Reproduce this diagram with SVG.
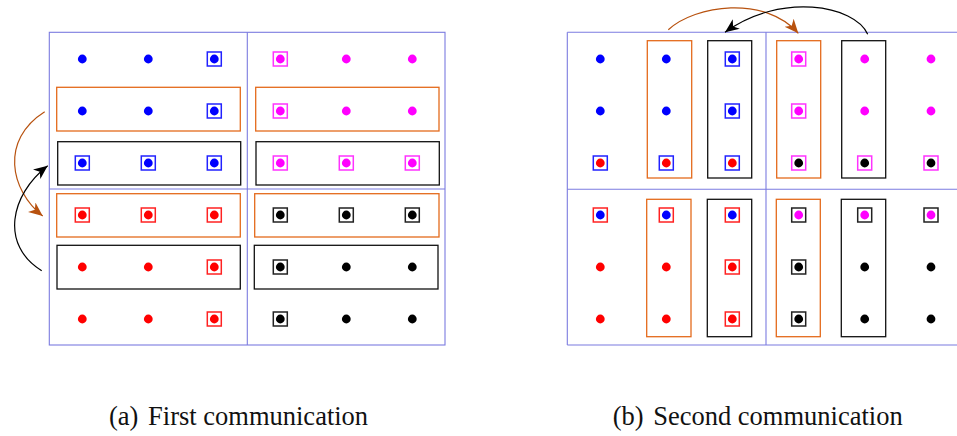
<svg xmlns="http://www.w3.org/2000/svg" width="957" height="436" viewBox="0 0 957 436">
<style>
.frame{fill:none;stroke:#7b7be0;stroke-width:1.1}
.ob{fill:none;stroke:#e46a1c;stroke-width:1.3}
.kb{fill:none;stroke:#111;stroke-width:1.3}
.b{fill:#0000ff}.m{fill:#ff00ff}.r{fill:#ff0000}.k{fill:#000}
circle{r:4.4px}
.sq{fill:none;stroke-width:1.5}
.sb{stroke:#2222ff}.sm{stroke:#ff33ff}.sr{stroke:#ff2222}.sk{stroke:#222}
.arr-o{fill:none;stroke:#b8520f;stroke-width:1.2}
.arr-k{fill:none;stroke:#000;stroke-width:1.2}
.cap{font-family:"Liberation Serif","Times New Roman",serif;font-size:26.5px;fill:#111}
</style>
<defs>
<marker id="hO" markerWidth="18" markerHeight="14" refX="14" refY="7" orient="auto" markerUnits="userSpaceOnUse"><path d="M14,7 L0,1 L4,7 L0,13 z" fill="#b8520f"/></marker>
<marker id="hK" markerWidth="18" markerHeight="14" refX="14" refY="7" orient="auto" markerUnits="userSpaceOnUse"><path d="M14,7 L0,1 L4,7 L0,13 z" fill="#000"/></marker>
</defs>
<rect width="957" height="436" fill="#fff"/>

<!-- Panel (a) -->
<g id="panel-a-frame">
<rect class="frame" x="49.3" y="32.3" width="395.7" height="312.7"/>
<line class="frame" x1="247.3" y1="32.3" x2="247.3" y2="345"/>
<line class="frame" x1="49.3" y1="189" x2="445" y2="189"/>
</g>
<g id="panel-a-groups">
<rect class="ob" x="56.7" y="87.3" width="183.6" height="43.7"/>
<rect class="kb" x="57.7" y="141.7" width="183" height="43.3"/>
<rect class="ob" x="255.7" y="87.3" width="183.3" height="43.7"/>
<rect class="kb" x="256" y="141.7" width="183.3" height="43.3"/>
<rect class="ob" x="56.7" y="193.7" width="183.6" height="43.3"/>
<rect class="kb" x="57" y="245.3" width="183.3" height="43.7"/>
<rect class="ob" x="254.7" y="193.7" width="184.3" height="43.3"/>
<rect class="kb" x="254.3" y="245.3" width="183.7" height="43.7"/>
</g>
<g id="a-blue">
<g id="a-r1c1"><circle class="b" cx="82.3" cy="59" r="4.4"/></g>
<g id="a-r1c2"><circle class="b" cx="148.3" cy="59" r="4.4"/></g>
<g id="a-r1c3"><circle class="b" cx="214.3" cy="59" r="4.4"/><rect class="sq sb" x="207.3" y="52" width="14" height="14"/></g>
<g id="a-r2c1"><circle class="b" cx="82.3" cy="111" r="4.4"/></g>
<g id="a-r2c2"><circle class="b" cx="148.3" cy="111" r="4.4"/></g>
<g id="a-r2c3"><circle class="b" cx="214.3" cy="111" r="4.4"/><rect class="sq sb" x="207.3" y="104" width="14" height="14"/></g>
<g id="a-r3c1"><circle class="b" cx="82.3" cy="163" r="4.4"/><rect class="sq sb" x="75.3" y="156" width="14" height="14"/></g>
<g id="a-r3c2"><circle class="b" cx="148.3" cy="163" r="4.4"/><rect class="sq sb" x="141.3" y="156" width="14" height="14"/></g>
<g id="a-r3c3"><circle class="b" cx="214.3" cy="163" r="4.4"/><rect class="sq sb" x="207.3" y="156" width="14" height="14"/></g>
</g>
<g id="a-magenta">
<g id="a-r1c4"><circle class="m" cx="280.3" cy="59" r="4.4"/><rect class="sq sm" x="273.3" y="52" width="14" height="14"/></g>
<g id="a-r1c5"><circle class="m" cx="346.3" cy="59" r="4.4"/></g>
<g id="a-r1c6"><circle class="m" cx="412.3" cy="59" r="4.4"/></g>
<g id="a-r2c4"><circle class="m" cx="280.3" cy="111" r="4.4"/><rect class="sq sm" x="273.3" y="104" width="14" height="14"/></g>
<g id="a-r2c5"><circle class="m" cx="346.3" cy="111" r="4.4"/></g>
<g id="a-r2c6"><circle class="m" cx="412.3" cy="111" r="4.4"/></g>
<g id="a-r3c4"><circle class="m" cx="280.3" cy="163" r="4.4"/><rect class="sq sm" x="273.3" y="156" width="14" height="14"/></g>
<g id="a-r3c5"><circle class="m" cx="346.3" cy="163" r="4.4"/><rect class="sq sm" x="339.3" y="156" width="14" height="14"/></g>
<g id="a-r3c6"><circle class="m" cx="412.3" cy="163" r="4.4"/><rect class="sq sm" x="405.3" y="156" width="14" height="14"/></g>
</g>
<g id="a-red">
<g id="a-r4c1"><circle class="r" cx="82.3" cy="215" r="4.4"/><rect class="sq sr" x="75.3" y="208" width="14" height="14"/></g>
<g id="a-r4c2"><circle class="r" cx="148.3" cy="215" r="4.4"/><rect class="sq sr" x="141.3" y="208" width="14" height="14"/></g>
<g id="a-r4c3"><circle class="r" cx="214.3" cy="215" r="4.4"/><rect class="sq sr" x="207.3" y="208" width="14" height="14"/></g>
<g id="a-r5c1"><circle class="r" cx="82.3" cy="267" r="4.4"/></g>
<g id="a-r5c2"><circle class="r" cx="148.3" cy="267" r="4.4"/></g>
<g id="a-r5c3"><circle class="r" cx="214.3" cy="267" r="4.4"/><rect class="sq sr" x="207.3" y="260" width="14" height="14"/></g>
<g id="a-r6c1"><circle class="r" cx="82.3" cy="319" r="4.4"/></g>
<g id="a-r6c2"><circle class="r" cx="148.3" cy="319" r="4.4"/></g>
<g id="a-r6c3"><circle class="r" cx="214.3" cy="319" r="4.4"/><rect class="sq sr" x="207.3" y="312" width="14" height="14"/></g>
</g>
<g id="a-black">
<g id="a-r4c4"><circle class="k" cx="280.3" cy="215" r="4.4"/><rect class="sq sk" x="273.3" y="208" width="14" height="14"/></g>
<g id="a-r4c5"><circle class="k" cx="346.3" cy="215" r="4.4"/><rect class="sq sk" x="339.3" y="208" width="14" height="14"/></g>
<g id="a-r4c6"><circle class="k" cx="412.3" cy="215" r="4.4"/><rect class="sq sk" x="405.3" y="208" width="14" height="14"/></g>
<g id="a-r5c4"><circle class="k" cx="280.3" cy="267" r="4.4"/><rect class="sq sk" x="273.3" y="260" width="14" height="14"/></g>
<g id="a-r5c5"><circle class="k" cx="346.3" cy="267" r="4.4"/></g>
<g id="a-r5c6"><circle class="k" cx="412.3" cy="267" r="4.4"/></g>
<g id="a-r6c4"><circle class="k" cx="280.3" cy="319" r="4.4"/><rect class="sq sk" x="273.3" y="312" width="14" height="14"/></g>
<g id="a-r6c5"><circle class="k" cx="346.3" cy="319" r="4.4"/></g>
<g id="a-r6c6"><circle class="k" cx="412.3" cy="319" r="4.4"/></g>
</g>

<!-- Panel (b) -->
<g id="panel-b-frame">
<line class="frame" x1="567.3" y1="32.3" x2="960" y2="32.3"/>
<line class="frame" x1="567.3" y1="345" x2="960" y2="345"/>
<line class="frame" x1="567.3" y1="32.3" x2="567.3" y2="345"/>
<line class="frame" x1="766" y1="32.3" x2="766" y2="345"/>
<line class="frame" x1="567.3" y1="189.3" x2="960" y2="189.3"/>
</g>
<g id="panel-b-groups">
<rect class="ob" x="647.3" y="40.7" width="44.4" height="137.3"/>
<rect class="kb" x="707.7" y="40.7" width="44" height="137.3"/>
<rect class="ob" x="776.7" y="40.7" width="44" height="137.3"/>
<rect class="kb" x="841.7" y="40.7" width="44" height="137.3"/>
<rect class="ob" x="646.7" y="199.3" width="44.3" height="137.4"/>
<rect class="kb" x="707.3" y="199.3" width="44.4" height="137.4"/>
<rect class="ob" x="776.3" y="199.3" width="44" height="137.4"/>
<rect class="kb" x="841.3" y="199.3" width="44.4" height="137.4"/>
</g>
<g id="b-topleft">
<g id="b-r1c1"><circle class="b" cx="600.3" cy="59" r="4.4"/></g>
<g id="b-r1c2"><circle class="b" cx="666.3" cy="59" r="4.4"/></g>
<g id="b-r1c3"><circle class="b" cx="732.3" cy="59" r="4.4"/><rect class="sq sb" x="725.3" y="52" width="14" height="14"/></g>
<g id="b-r2c1"><circle class="b" cx="600.3" cy="111" r="4.4"/></g>
<g id="b-r2c2"><circle class="b" cx="666.3" cy="111" r="4.4"/></g>
<g id="b-r2c3"><circle class="b" cx="732.3" cy="111" r="4.4"/><rect class="sq sb" x="725.3" y="104" width="14" height="14"/></g>
<g id="b-r3c1"><circle class="r" cx="600.3" cy="163" r="4.4"/><rect class="sq sb" x="593.3" y="156" width="14" height="14"/></g>
<g id="b-r3c2"><circle class="r" cx="666.3" cy="163" r="4.4"/><rect class="sq sb" x="659.3" y="156" width="14" height="14"/></g>
<g id="b-r3c3"><circle class="r" cx="732.3" cy="163" r="4.4"/><rect class="sq sb" x="725.3" y="156" width="14" height="14"/></g>
</g>
<g id="b-topright">
<g id="b-r1c4"><circle class="m" cx="798.7" cy="59" r="4.4"/><rect class="sq sm" x="791.7" y="52" width="14" height="14"/></g>
<g id="b-r1c5"><circle class="m" cx="864.7" cy="59" r="4.4"/></g>
<g id="b-r1c6"><circle class="m" cx="931" cy="59" r="4.4"/></g>
<g id="b-r2c4"><circle class="m" cx="798.7" cy="111" r="4.4"/><rect class="sq sm" x="791.7" y="104" width="14" height="14"/></g>
<g id="b-r2c5"><circle class="m" cx="864.7" cy="111" r="4.4"/></g>
<g id="b-r2c6"><circle class="m" cx="931" cy="111" r="4.4"/></g>
<g id="b-r3c4"><circle class="k" cx="798.7" cy="163" r="4.4"/><rect class="sq sm" x="791.7" y="156" width="14" height="14"/></g>
<g id="b-r3c5"><circle class="k" cx="864.7" cy="163" r="4.4"/><rect class="sq sm" x="857.7" y="156" width="14" height="14"/></g>
<g id="b-r3c6"><circle class="k" cx="931" cy="163" r="4.4"/><rect class="sq sm" x="924" y="156" width="14" height="14"/></g>
</g>
<g id="b-bottomleft">
<g id="b-r4c1"><circle class="b" cx="600.3" cy="215" r="4.4"/><rect class="sq sr" x="593.3" y="208" width="14" height="14"/></g>
<g id="b-r4c2"><circle class="b" cx="666.3" cy="215" r="4.4"/><rect class="sq sr" x="659.3" y="208" width="14" height="14"/></g>
<g id="b-r4c3"><circle class="b" cx="732.3" cy="215" r="4.4"/><rect class="sq sr" x="725.3" y="208" width="14" height="14"/></g>
<g id="b-r5c1"><circle class="r" cx="600.3" cy="267" r="4.4"/></g>
<g id="b-r5c2"><circle class="r" cx="666.3" cy="267" r="4.4"/></g>
<g id="b-r5c3"><circle class="r" cx="732.3" cy="267" r="4.4"/><rect class="sq sr" x="725.3" y="260" width="14" height="14"/></g>
<g id="b-r6c1"><circle class="r" cx="600.3" cy="319" r="4.4"/></g>
<g id="b-r6c2"><circle class="r" cx="666.3" cy="319" r="4.4"/></g>
<g id="b-r6c3"><circle class="r" cx="732.3" cy="319" r="4.4"/><rect class="sq sr" x="725.3" y="312" width="14" height="14"/></g>
</g>
<g id="b-bottomright">
<g id="b-r4c4"><circle class="m" cx="798.7" cy="215" r="4.4"/><rect class="sq sk" x="791.7" y="208" width="14" height="14"/></g>
<g id="b-r4c5"><circle class="m" cx="864.7" cy="215" r="4.4"/><rect class="sq sk" x="857.7" y="208" width="14" height="14"/></g>
<g id="b-r4c6"><circle class="m" cx="931" cy="215" r="4.4"/><rect class="sq sk" x="924" y="208" width="14" height="14"/></g>
<g id="b-r5c4"><circle class="k" cx="798.7" cy="267" r="4.4"/><rect class="sq sk" x="791.7" y="260" width="14" height="14"/></g>
<g id="b-r5c5"><circle class="k" cx="864.7" cy="267" r="4.4"/></g>
<g id="b-r5c6"><circle class="k" cx="931" cy="267" r="4.4"/></g>
<g id="b-r6c4"><circle class="k" cx="798.7" cy="319" r="4.4"/><rect class="sq sk" x="791.7" y="312" width="14" height="14"/></g>
<g id="b-r6c5"><circle class="k" cx="864.7" cy="319" r="4.4"/></g>
<g id="b-r6c6"><circle class="k" cx="931" cy="319" r="4.4"/></g>
</g>

<g id="connectors">
<path class="arr-o" d="M44.7,111.7 C0,140 10,190 42.7,216" marker-end="url(#hO)"/>
<path class="arr-k" d="M41.7,270.7 C0,245 10,195 47.7,165.7" marker-end="url(#hK)"/>
<path class="arr-o" d="M668.3,29.7 C695,5 765,-5 798.3,33.3" marker-end="url(#hO)"/>
<path class="arr-k" d="M867.7,34.3 C855,5 780,-8 725,32.3" marker-end="url(#hK)"/>
</g>

<g id="captions">
<text class="cap" x="109" y="425">(a) <tspan dx="3">First communication</tspan></text>
<text class="cap" x="612.7" y="425">(b) <tspan dx="3">Second communication</tspan></text>
</g>
</svg>
